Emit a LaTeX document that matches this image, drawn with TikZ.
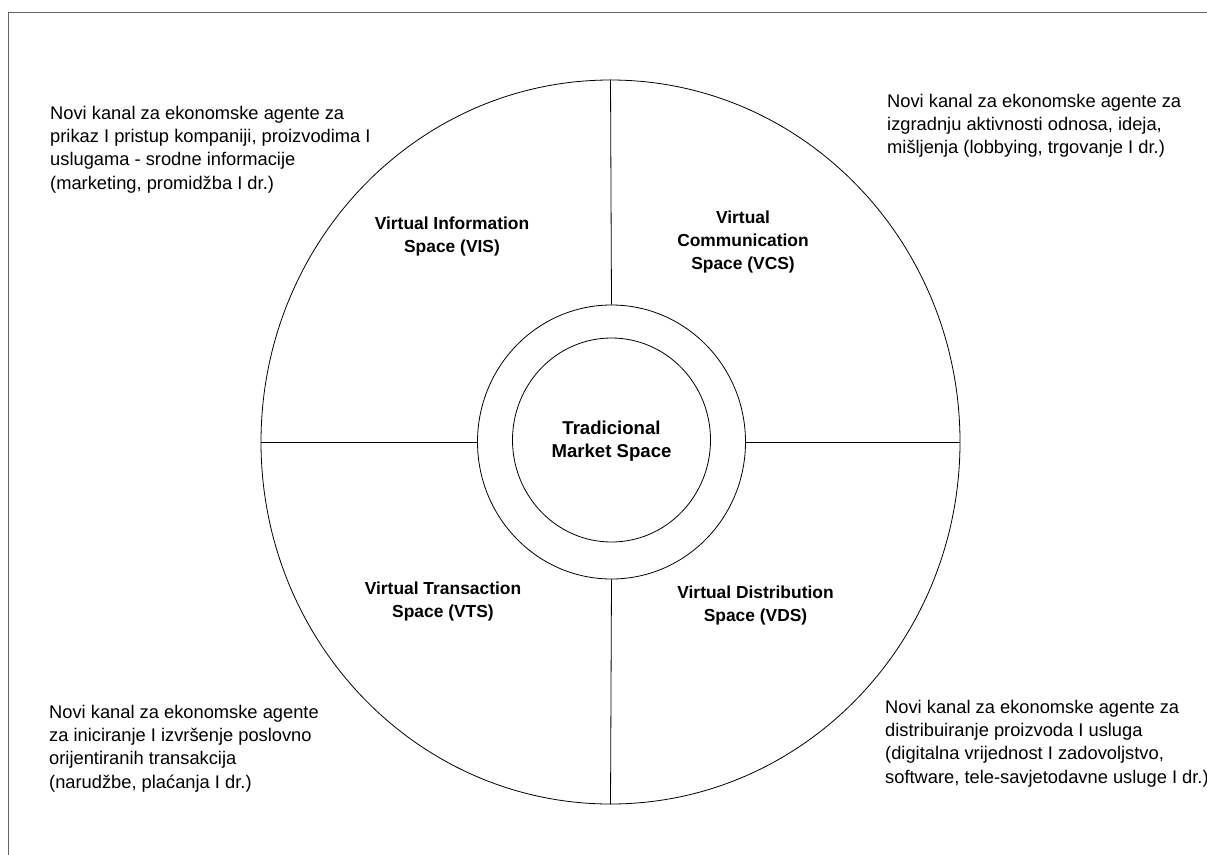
\documentclass[tikz,border=0pt]{standalone}
\usepackage{fontspec}
\setmainfont{Liberation Sans}
\usetikzlibrary{shapes.geometric}
\begin{document}
\begin{tikzpicture}[x=1pt,y=-1pt,
  desc/.style={anchor=north west,align=left,inner sep=0pt,font=\fontsize{18.3}{23.2}\selectfont},
  spacelbl/.style={align=center,inner sep=0pt,font=\bfseries\fontsize{17.4}{23}\selectfont},
  ring/.style={draw,line width=0.8pt,ellipse,inner sep=0pt},
  divider/.style={line width=0.8pt}]
\useasboundingbox (0,0) rectangle (1207,854);
% frame
\draw[line width=1pt,black!60] (8,870) -- (8,12) -- (1220,12);
% circles
\node[ring,minimum width=699pt,minimum height=724pt] (outer) at (610.5,442) {};
\node[ring,minimum width=268pt,minimum height=274pt] (mid) at (611.5,442) {};
\node[ring,minimum width=198pt,minimum height=204pt] (inner) at (611.5,440) {};
% dividers
\draw[divider] (outer.north) -- (mid.north);
\draw[divider] (mid.south) -- (outer.south);
\draw[divider] (outer.west) -- (mid.west);
\draw[divider] (mid.east) -- (outer.east);
% center labels
\node[spacelbl,font=\bfseries\fontsize{18.6}{23}\selectfont] (tms) at (611.5,441) {Tradicional\\Market Space};
\node[spacelbl] (vis) at (452,236) {Virtual Information\\Space (VIS)};
\node[spacelbl] (vcs) at (743,242) {Virtual\\Communication\\Space (VCS)};
\node[spacelbl] (vts) at (443,601) {Virtual Transaction\\Space (VTS)};
\node[spacelbl] (vds) at (755.5,605) {Virtual Distribution\\Space (VDS)};
% descriptions
\node[desc] (dvis) at (50,106) {Novi kanal za ekonomske agente za\\prikaz I pristup kompaniji, proizvodima I\\uslugama - srodne informacije\\(marketing, promidžba I dr.)};
\node[desc] (dvcs) at (887,94) {Novi kanal za ekonomske agente za\\izgradnju aktivnosti odnosa, ideja,\\mišljenja (lobbying, trgovanje I dr.)};
\node[desc] (dvts) at (49,705) {Novi kanal za ekonomske agente\\za iniciranje I izvršenje poslovno\\orijentiranih transakcija\\(narudžbe, plaćanja I dr.)};
\node[desc] (dvds) at (885,700) {Novi kanal za ekonomske agente za\\distribuiranje proizvoda I usluga\\(digitalna vrijednost I zadovoljstvo,\\software, tele-savjetodavne usluge I dr.)};
\end{tikzpicture}
\end{document}
